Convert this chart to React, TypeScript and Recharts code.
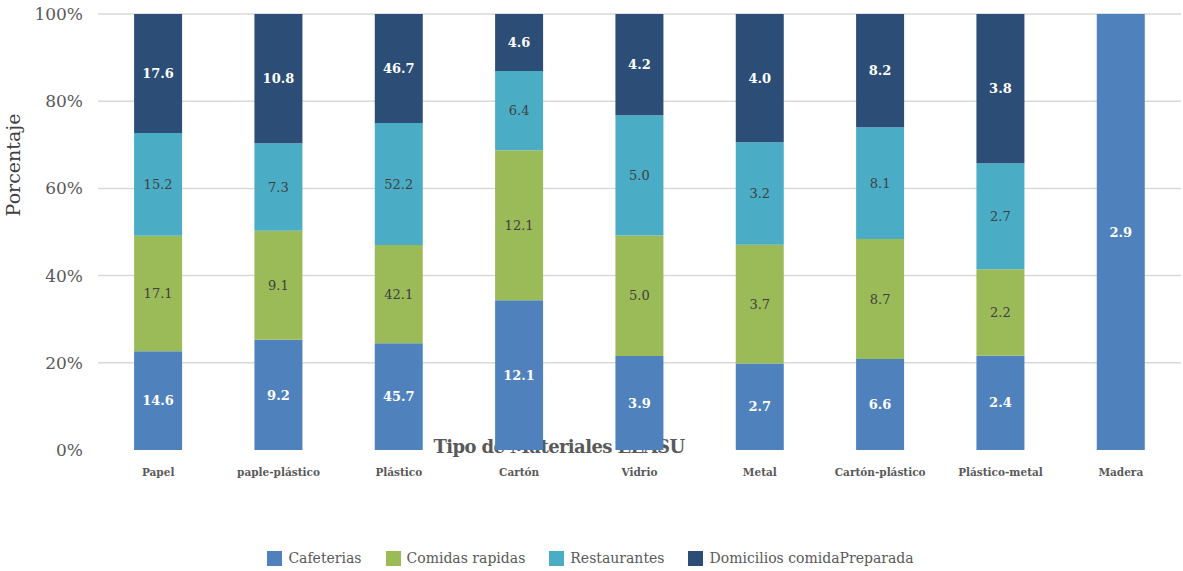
import React from 'react';
import { BarChart, Bar, XAxis, YAxis, CartesianGrid, Legend, LabelList } from 'recharts';

const materiales = ['Papel', 'paple-plástico', 'Plástico', 'Cartón', 'Vidrio', 'Metal', 'Cartón-plástico', 'Plástico-metal', 'Madera'];
const cafeterias = [14.6, 9.2, 45.7, 12.1, 3.9, 2.7, 6.6, 2.4, 2.9];
const comidasRapidas = [17.1, 9.1, 42.1, 12.1, 5.0, 3.7, 8.7, 2.2, 0];
const restaurantes = [15.2, 7.3, 52.2, 6.4, 5.0, 3.2, 8.1, 2.7, 0];
const domicilios = [17.6, 10.8, 46.7, 4.6, 4.2, 4.0, 8.2, 3.8, 0];
const yTicks = [0, 0.2, 0.4, 0.6, 0.8, 1];

const series = [
  { key: 'caf', name: 'Cafeterias', color: '#4f81bd', values: cafeterias, labelColor: '#ffffff', bold: true },
  { key: 'com', name: 'Comidas rapidas', color: '#9bbb59', values: comidasRapidas, labelColor: '#404040', bold: false },
  { key: 'res', name: 'Restaurantes', color: '#4bacc6', values: restaurantes, labelColor: '#404040', bold: false },
  { key: 'dom', name: 'Domicilios comidaPreparada', color: '#2c4d75', values: domicilios, labelColor: '#ffffff', bold: true },
];

const data = materiales.map((m, i) => {
  const row: Record<string, any> = { name: m };
  series.forEach(s => { row[s.key] = s.values[i]; });
  return row;
});

const FONT = '"DejaVu Serif", serif';

// legend drawn in series order (recharts would sort it by name)
const LegendContent = () => (
  <div style={{ display: 'flex', justifyContent: 'center', alignItems: 'center', height: 40, paddingTop: 14, boxSizing: 'border-box', fontFamily: FONT, fontSize: 14, color: '#595959' }}>
    {series.map(s => (
      <div key={s.key} style={{ display: 'flex', alignItems: 'center', margin: '0 12px' }}>
        <span style={{ width: 15, height: 15, background: s.color, display: 'inline-block', marginRight: 6 }} />
        <span>{s.name}</span>
      </div>
    ))}
  </div>
);

const YLabel = () => (
  <text x={20} y={165} transform="rotate(-90 20 165)" textAnchor="middle" fontFamily={FONT} fontSize={19} fill="#404040">
    Porcentaje
  </text>
);

export default function App() {
  return (
    <div style={{ position: 'relative', width: 1183, height: 571 }}>
      <style>{`body{margin:0}`}</style>
      <div style={{ position: 'absolute', left: 559, top: 436, transform: 'translateX(-50%)', whiteSpace: 'nowrap', fontFamily: FONT, fontWeight: 'bold', fontSize: 18, letterSpacing: -0.6, color: '#595959' }}>
        Tipo de Materiales EEASU
      </div>
      <BarChart width={1183} height={571} data={data} stackOffset="expand" barCategoryGap="30%"
        margin={{ top: 14, right: 2, left: 0, bottom: 0 }}>
        <CartesianGrid vertical={false} stroke="#d9d9d9" strokeWidth={1.5} horizontalValues={[0.2, 0.4, 0.6, 0.8, 1]} />
        <XAxis dataKey="name" height={81} axisLine={false} tickLine={false} tickMargin={13} interval={0}
          tick={{ fontFamily: FONT, fontSize: 10.5, fontWeight: 'bold', fill: '#595959' }} />
        <YAxis width={98} ticks={yTicks} domain={[0, 1]} axisLine={false} tickLine={false} tickMargin={9}
          tickFormatter={(v: number) => `${Math.round(v * 100)}%`}
          tick={{ fontFamily: FONT, fontSize: 17, fill: '#595959' }}
          label={<YLabel />} />
        <Legend verticalAlign="bottom" height={40} content={<LegendContent />} />
        {series.map(s => (
          <Bar key={s.key} dataKey={s.key} name={s.name} stackId="a" fill={s.color} isAnimationActive={false}>
            <LabelList dataKey={s.key} position="center"
              formatter={(v: any) => (v ? Number(v).toFixed(1) : '')}
              style={{ fontFamily: FONT, fontSize: 13, fontWeight: s.bold ? 'bold' : 'normal', fill: s.labelColor }} />
          </Bar>
        ))}
      </BarChart>
    </div>
  );
}
